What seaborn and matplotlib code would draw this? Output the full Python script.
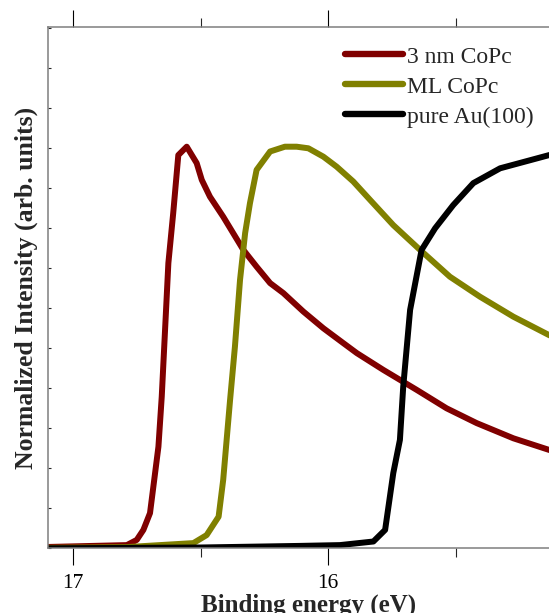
import numpy as np
import pandas as pd
import matplotlib
matplotlib.use("Agg")
import matplotlib.pyplot as plt
import seaborn as sns
from matplotlib.ticker import FixedLocator, MultipleLocator

# Normalized secondary-electron cutoff spectra (binding energy in eV)
energy_3nm = [17.12, 16.789, 16.750, 16.724, 16.698, 16.665, 16.652, 16.639, 16.626,
              16.607, 16.587, 16.554, 16.515, 16.495, 16.463, 16.411, 16.332, 16.280,
              16.227, 16.175, 16.097, 16.018, 15.940, 15.887, 15.835, 15.783, 15.652,
              15.535, 15.417, 15.273, 15.133, 15.0]
intensity_3nm = [0.003, 0.008, 0.021, 0.046, 0.088, 0.254, 0.379, 0.546, 0.713,
                 0.838, 0.983, 1.004, 0.963, 0.921, 0.879, 0.829, 0.746, 0.704,
                 0.663, 0.638, 0.592, 0.550, 0.513, 0.488, 0.467, 0.446, 0.396,
                 0.350, 0.313, 0.275, 0.246, 0.222]

energy_ml = [17.12, 16.79, 16.528, 16.476, 16.429, 16.411, 16.384, 16.365, 16.345,
             16.325, 16.306, 16.280, 16.227, 16.169, 16.123, 16.077, 16.018, 15.966,
             15.901, 15.835, 15.744, 15.639, 15.522, 15.404, 15.273, 15.133, 15.0]
intensity_ml = [0.001, 0.003, 0.013, 0.033, 0.079, 0.171, 0.371, 0.504, 0.671,
                0.788, 0.863, 0.946, 0.992, 1.004, 1.004, 1.000, 0.979, 0.954,
                0.917, 0.871, 0.808, 0.746, 0.679, 0.629, 0.579, 0.533, 0.495]

energy_au = [17.12, 16.502, 16.110, 15.953, 15.822, 15.776, 15.744, 15.718, 15.705,
             15.678, 15.633, 15.580, 15.509, 15.430, 15.325, 15.133, 15.0]
intensity_au = [0.0, 0.002, 0.006, 0.008, 0.017, 0.046, 0.188, 0.271, 0.404,
                0.596, 0.746, 0.800, 0.858, 0.913, 0.950, 0.983, 1.0]

labels = ["3 nm CoPc", "ML CoPc", "pure Au(100)"]
colors = ["#800000", "#808000", "#000000"]
major_ticks = [17, 16]
minor_ticks = [16.5, 15.5]

df = pd.concat([
    pd.DataFrame({"energy": energy_3nm, "intensity": intensity_3nm, "sample": labels[0]}),
    pd.DataFrame({"energy": energy_ml, "intensity": intensity_ml, "sample": labels[1]}),
    pd.DataFrame({"energy": energy_au, "intensity": intensity_au, "sample": labels[2]}),
], ignore_index=True)

sns.set_style("ticks")
plt.rcParams["font.family"] = ["Liberation Serif", "DejaVu Serif"]

W, H = 549, 613
fig = plt.figure(figsize=(W / 100, H / 100), dpi=100)
left_px, top_px, bottom_px, right_px = 48.3, 26.7, 548.3, 600.0
ax = fig.add_axes([left_px / W, 1 - bottom_px / H,
                   (right_px - left_px) / W, (bottom_px - top_px) / H])

sns.lineplot(data=df, x="energy", y="intensity", hue="sample", hue_order=labels,
             palette=colors, estimator=None, sort=False, linewidth=4.3,
             solid_capstyle="round", solid_joinstyle="round", ax=ax)

# Binding energy increases to the left
px_per_ev = 255.0
x_left = 17 + (73 - left_px) / px_per_ev
x_right = 16 - (right_px - 328) / px_per_ev
ax.set_xlim(x_left, x_right)
ax.set_ylim(0, (bottom_px - top_px) / 400.0)

ax.xaxis.set_major_locator(FixedLocator(major_ticks))
ax.xaxis.set_minor_locator(FixedLocator(minor_ticks))
ax.set_xticklabels([str(t) for t in major_ticks])
ax.yaxis.set_major_locator(MultipleLocator(0.1))
ax.set_yticklabels([])
ax.tick_params(axis="x", which="major", direction="out", length=12.2, width=0.8,
               top=True, bottom=True, labelsize=15.5, pad=6.2, colors="black")
ax.tick_params(axis="x", which="minor", direction="out", length=6.5, width=0.8,
               top=True, bottom=True)
ax.tick_params(axis="y", which="major", direction="in", length=2.5, width=0.8,
               left=True, right=False)

for side in ["left", "top", "bottom", "right"]:
    ax.spines[side].set_color("#7f7f7f")
    ax.spines[side].set_linewidth(1.1)

ax.set_xlabel("Binding energy (eV)", fontsize=18, fontweight="bold")
ax.set_ylabel("Normalized Intensity (arb. units)", fontsize=18.5, fontweight="bold")
ax.xaxis.set_label_coords((308.5 - left_px) / (right_px - left_px),
                          -(594 - bottom_px) / (bottom_px - top_px))
ax.yaxis.set_label_coords(-(48.3 - 38) / (right_px - left_px), 0.5)

leg = ax.legend(loc="upper left", bbox_to_anchor=(345 / W, 1 - 46 / H),
                bbox_transform=fig.transFigure, frameon=False, fontsize=17,
                handlelength=2.45, handletextpad=0.18, labelspacing=0.36,
                borderpad=0, borderaxespad=0)
for line in leg.get_lines():
    line.set_linewidth(4.6)
    line.set_solid_capstyle("round")

fig.savefig("out.png", dpi=100)
